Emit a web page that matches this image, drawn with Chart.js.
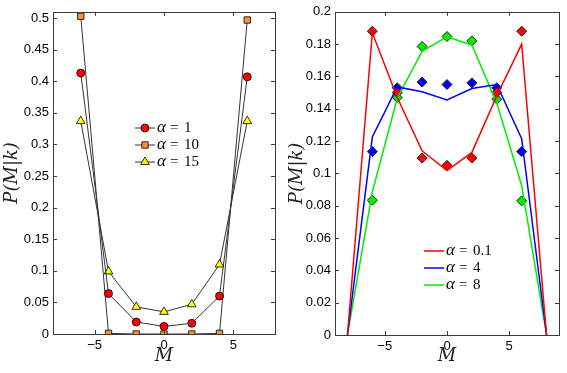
<!DOCTYPE html>
<html lang="en">
<head>
<meta charset="UTF-8">
<title>P(M|k)</title>
<script src="https://cdn.jsdelivr.net/npm/chart.js@4"></script>
<style>
  body { margin: 0; background: #fff; }
  #wrap { position: relative; width: 567px; height: 373px; overflow: hidden; }
  #left { position: absolute; left: 0; top: 0; }
  #right { position: absolute; left: 283px; top: 0; }
</style>
</head>
<body>
<div id="wrap">
  <canvas id="left" width="283" height="373"></canvas>
  <canvas id="right" width="284" height="373"></canvas>
</div>
<script>
// ---- left panel data ----
const mLeft = [-6, -4, -2, 0, 2, 4, 6];
const alpha1 = [0.413, 0.064, 0.019, 0.012, 0.017, 0.060, 0.407];
const alpha10 = [0.503, 0.001, 0, 0, 0, 0.001, 0.497];
const alpha15 = [0.337, 0.099, 0.043, 0.035, 0.047, 0.110, 0.337];
const leftLabels = ['1', '10', '15'];
const leftXTicks = [-5, 0, 5];
const leftYTicks = [0, 0.05, 0.1, 0.15, 0.2, 0.25, 0.3, 0.35, 0.4, 0.45, 0.5];

// ---- right panel data ----
const mLine = [-8, -6, -4, -2, 0, 2, 4, 6, 8];
const redLine = [0, 0.187, 0.147, 0.114, 0.1017, 0.113, 0.148, 0.180, 0];
const blueLine = [0, 0.1225, 0.1535, 0.1505, 0.1455, 0.1525, 0.155, 0.1215, 0];
const greenLine = [0, 0.0885, 0.1465, 0.1755, 0.1845, 0.1795, 0.1435, 0.0925, 0];
const mPts = [-6, -4, -2, 0, 2, 4, 6];
const redPts = [0.188, 0.150, 0.1095, 0.105, 0.1095, 0.150, 0.188];
const bluePts = [0.1135, 0.153, 0.1565, 0.155, 0.156, 0.153, 0.1135];
const greenPts = [0.0834, 0.147, 0.1786, 0.1847, 0.182, 0.146, 0.083];
const rightLabels = ['0.1', '4', '8'];
const rightXTicks = [-5, 0, 5];
const rightYTicks = [0, 0.02, 0.04, 0.06, 0.08, 0.1, 0.12, 0.14, 0.16, 0.18, 0.2];

const pairs = (xs, ys) => xs.map((x, i) => ({ x: x, y: ys[i] }));
const tickFont = { family: '"Liberation Sans", Arial, sans-serif', size: 13 };
const titleFont = { family: '"DejaVu Serif", serif', size: 18, style: 'italic' };

// box with inward ticks on all four sides (matlab style)
const frame = {
  id: 'frame',
  afterDraw(chart) {
    const { ctx, chartArea: a, scales: { x, y } } = chart;
    ctx.save();
    ctx.strokeStyle = '#3a3a3a';
    ctx.lineWidth = 1;
    ctx.beginPath();
    x.ticks.forEach(t => {
      const px = Math.round(x.getPixelForValue(t.value)) + 0.5;
      ctx.moveTo(px, a.bottom); ctx.lineTo(px, a.bottom - 4);
      ctx.moveTo(px, a.top); ctx.lineTo(px, a.top + 4);
    });
    y.ticks.forEach(t => {
      const py = Math.round(y.getPixelForValue(t.value)) + 0.5;
      ctx.moveTo(a.left, py); ctx.lineTo(a.left + 4, py);
      ctx.moveTo(a.right, py); ctx.lineTo(a.right - 4, py);
    });
    ctx.stroke();
    ctx.strokeRect(Math.round(a.left) + 0.5, Math.round(a.top) + 0.5,
      Math.round(a.right - a.left), Math.round(a.bottom - a.top));
    ctx.restore();
  }
};

// legend drawn inside the plot area
const inLegend = {
  id: 'inLegend',
  afterDraw(chart, args, opts) {
    const ctx = chart.ctx;
    const items = chart.data.datasets.filter(d => d.legendText !== undefined);
    ctx.save();
    items.forEach((d, i) => {
      const y = opts.y + i * opts.dy;
      ctx.strokeStyle = d.borderColor;
      ctx.lineWidth = d.borderWidth;
      ctx.beginPath();
      ctx.moveTo(opts.x, y);
      ctx.lineTo(opts.x + opts.len, y);
      ctx.stroke();
      if (d.pointRadius > 0) {
        ctx.fillStyle = d.pointBackgroundColor;
        ctx.strokeStyle = d.pointBorderColor;
        ctx.lineWidth = d.pointBorderWidth;
        Chart.helpers.drawPoint(ctx, { pointStyle: d.pointStyle, radius: d.pointRadius, rotation: 0, borderWidth: d.pointBorderWidth }, opts.x + opts.len / 2, y);
      }
      const tx = opts.x + opts.len + 2;
      ctx.fillStyle = '#000';
      ctx.textBaseline = 'middle';
      ctx.font = 'italic 17px "Liberation Serif", serif';
      ctx.fillText('\u03b1', tx, y);
      ctx.font = '15px "Liberation Serif", serif';
      ctx.fillText('=', tx + 13, y);
      ctx.fillText(d.legendText, tx + 27, y);
    });
    ctx.restore();
  }
};

function axes(xMin, xMax, xTicks, yMax, yTicks, yWidth, xHeight, yTitlePad) {
  return {
    x: {
      type: 'linear', min: xMin, max: xMax,
      afterBuildTicks: s => { s.ticks = xTicks.map(v => ({ value: v })); },
      afterFit: s => { s.height = xHeight; },
      grid: { display: false, drawTicks: false },
      border: { display: false },
      ticks: {
        font: tickFont, color: '#000', padding: 4, maxRotation: 0,
        callback: v => v < 0 ? '\u2212' + (-v) : String(v)
      },
      title: { display: true, text: 'M', font: { family: '"DejaVu Serif", serif', size: 18, style: 'italic' }, color: '#222', padding: { top: 0, bottom: 6 } }
    },
    y: {
      type: 'linear', min: 0, max: yMax,
      afterBuildTicks: s => { s.ticks = yTicks.map(v => ({ value: v })); },
      afterFit: s => { s.width = yWidth; },
      grid: { display: false, drawTicks: false },
      border: { display: false },
      ticks: {
        font: tickFont, color: '#000', padding: 4,
        callback: v => String(+v.toFixed(3))
      },
      title: { display: true, text: 'P(M|k)', font: titleFont, color: '#222', padding: { top: yTitlePad, bottom: 0 } }
    }
  };
}

new Chart(document.getElementById('left'), {
  type: 'line',
  data: {
    datasets: [
      { legendText: leftLabels[0], data: pairs(mLeft, alpha1), borderColor: '#333', borderWidth: 1,
        pointStyle: 'circle', pointRadius: 4, pointBackgroundColor: '#ff0000', pointBorderColor: '#000', pointBorderWidth: 0.8 },
      { legendText: leftLabels[1], data: pairs(mLeft, alpha10), borderColor: '#333', borderWidth: 1,
        pointStyle: 'rect', pointRadius: 4.5, pointBackgroundColor: '#f7943b', pointBorderColor: '#000', pointBorderWidth: 0.8 },
      { legendText: leftLabels[2], data: pairs(mLeft, alpha15), borderColor: '#333', borderWidth: 1,
        pointStyle: 'triangle', pointRadius: 5, pointBackgroundColor: '#ffff00', pointBorderColor: '#000', pointBorderWidth: 0.8 }
    ]
  },
  options: {
    responsive: false, animation: false,
    layout: { padding: { top: 7, right: 8, left: 0, bottom: 0 } },
    scales: axes(-8, 8, leftXTicks, 0.51, leftYTicks, 53, 39, 2),
    plugins: {
      legend: { display: false }, tooltip: { enabled: false },
      inLegend: { x: 135, y: 128, dy: 17, len: 20 }
    }
  },
  plugins: [frame, inLegend]
});

const lineSet = (label, ys, color) => ({ legendText: label, data: pairs(mLine, ys), borderColor: color, borderWidth: 1.5, pointRadius: 0 });
const markSet = (ys, color) => ({ data: pairs(mPts, ys), showLine: false, pointStyle: 'rectRot', pointRadius: 5,
  pointBackgroundColor: color, pointBorderColor: '#222', pointBorderWidth: 1 });

new Chart(document.getElementById('right'), {
  type: 'line',
  data: {
    datasets: [
      lineSet(rightLabels[0], redLine, '#ff0000'),
      lineSet(rightLabels[1], blueLine, '#0000ff'),
      lineSet(rightLabels[2], greenLine, '#00ee00'),
      markSet(redPts, '#ff0000'),
      markSet(bluePts, '#0000ff'),
      markSet(greenPts, '#00ee00')
    ]
  },
  options: {
    responsive: false, animation: false,
    layout: { padding: { top: 7, right: 8, left: 0, bottom: 0 } },
    scales: axes(-9, 9, rightXTicks, 0.2, rightYTicks, 52, 38, 4),
    plugins: {
      legend: { display: false }, tooltip: { enabled: false },
      inLegend: { x: 141, y: 251, dy: 17, len: 20 }
    }
  },
  plugins: [frame, inLegend]
});
</script>
</body>
</html>
